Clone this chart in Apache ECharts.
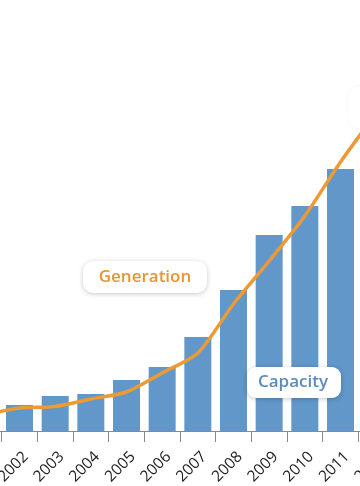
<!DOCTYPE html>
<html>
<head>
<meta charset="utf-8">
<script src="https://cdn.jsdelivr.net/npm/echarts@6/dist/echarts.min.js"></script>
<style>
html,body{margin:0;padding:0;background:#fff;}
#c{width:360px;height:486px;}
</style>
</head>
<body>
<div id="c"></div>
<script>
var years = ['2001','2002','2003','2004','2005','2006','2007','2008','2009','2010','2011','2012'];
var capacity = [20, 26, 35, 37, 51, 64, 94, 141, 196, 225, 262, 300];
var generation = [16, 23, 24.5, 32, 39, 58, 78, 127, 170, 215, 269, 318];
var generationLabel = 'Generation';
var capacityLabel = 'Capacity';

var chart = echarts.init(document.getElementById('c'), null, {renderer: 'canvas'});
chart.setOption({
  animation: false,
  backgroundColor: '#ffffff',
  grid: {left: -34, right: -34, top: 0, bottom: 55, containLabel: false, outerBoundsMode: 'none'},
  xAxis: {
    type: 'category',
    data: years,
    boundaryGap: true,
    axisLine: {lineStyle: {color: '#8a8a8a', width: 1}},
    axisTick: {show: true, length: 11, lineStyle: {color: '#8a8a8a'}},
    axisLabel: {rotate: 45, color: '#222', fontSize: 15.5, fontFamily: 'Open Sans',
      margin: 17, interval: 0, verticalAlign: 'top', lineHeight: 18}
  },
  yAxis: {type: 'value', min: 0, max: 431, show: false, splitLine: {show: false}},
  series: [
    {
      type: 'bar', data: capacity, barWidth: 27,
      itemStyle: {color: '#6197c9'}, z: 2
    },
    {
      type: 'line', data: generation, smooth: 0.25, symbol: 'none',
      lineStyle: {color: '#ec9a33', width: 3.5}, z: 3
    }
  ],
  graphic: [
    {type: 'rect', shape: {x: 348, y: 86, width: 100, height: 42, r: 10}, z: 10,
      style: {fill: '#fff', shadowBlur: 3, shadowColor: 'rgba(0,0,0,0.05)', shadowOffsetY: 0}},
    {type: 'rect', shape: {x: 83, y: 261, width: 124, height: 32, r: 10}, z: 10,
      style: {fill: '#fff', shadowBlur: 5, shadowColor: 'rgba(0,0,0,0.22)', shadowOffsetY: 1}},
    {type: 'text', x: 145, y: 277.5, z: 11,
      style: {text: generationLabel, fill: '#e8952f', font: '600 17px "Open Sans"', align: 'center', verticalAlign: 'middle'}},
    {type: 'rect', shape: {x: 247, y: 367, width: 94, height: 31, r: 9}, z: 10,
      style: {fill: '#fff', shadowBlur: 5, shadowColor: 'rgba(0,0,0,0.22)', shadowOffsetY: 1}},
    {type: 'text', x: 293, y: 382, z: 11,
      style: {text: capacityLabel, fill: '#5a8bbd', font: '600 17px "Open Sans"', align: 'center', verticalAlign: 'middle'}}
  ]
});
</script>
</body>
</html>
